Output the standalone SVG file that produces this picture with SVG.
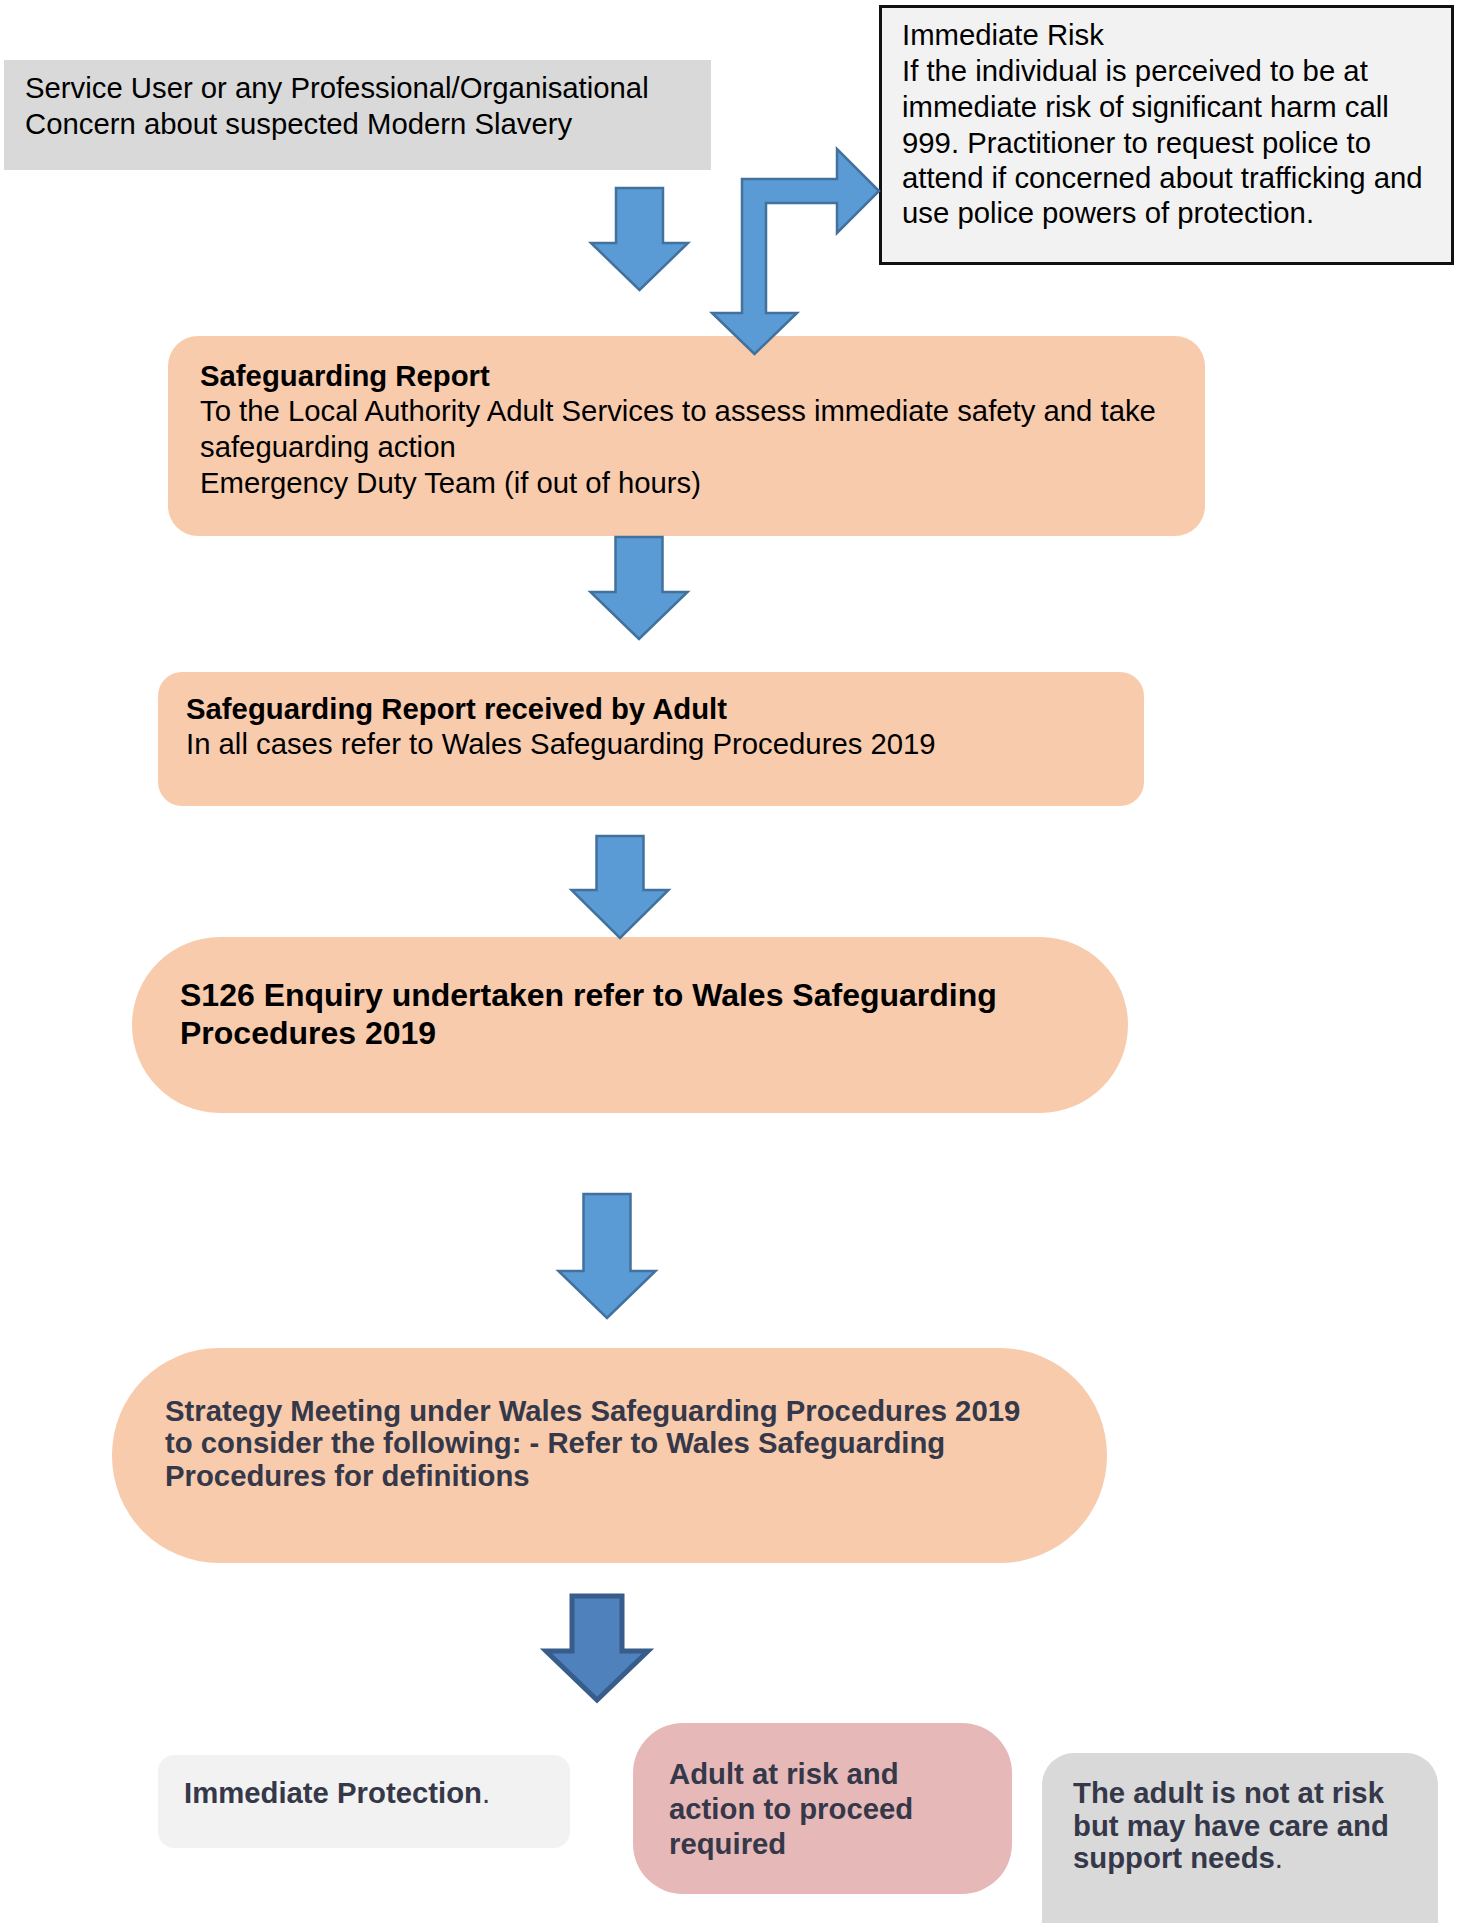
<svg xmlns="http://www.w3.org/2000/svg" width="1459" height="1923" viewBox="0 0 1459 1923">
<style>
text{font-family:"Liberation Sans",Arial,sans-serif;font-size:29.3px;fill:#000}
.b{font-weight:bold}
.dk{fill:#353849;font-weight:bold}
.arr{fill:#5b9bd5;stroke:#41719c;stroke-width:2.5;stroke-linejoin:miter}
.arr2{fill:#4f81bd;stroke:#385d8a;stroke-width:5;stroke-linejoin:miter}
.peach{fill:#f8cbad}
</style>
<rect width="1459" height="1923" fill="#fff"/>
<g id="concern">
<rect x="4" y="60" width="707" height="110" fill="#d9d9d9"/>
<text x="25" y="98">Service User or any Professional/Organisational</text>
<text x="25" y="134">Concern about suspected Modern Slavery</text>
</g>
<g id="immediate-risk">
<rect x="880.5" y="6.5" width="572" height="257" fill="#f2f2f2" stroke="#111" stroke-width="3"/>
<text x="902" y="45">Immediate Risk</text>
<text x="902" y="81">If the individual is perceived to be at</text>
<text x="902" y="117">immediate risk of significant harm call</text>
<text x="902" y="153">999. Practitioner to request police to</text>
<text x="902" y="188">attend if concerned about trafficking and</text>
<text x="902" y="223">use police powers of protection.</text>
</g>
<g id="safeguarding-report">
<rect class="peach" x="168" y="336" width="1037" height="200" rx="30" ry="30"/>
<text class="b" x="200" y="386">Safeguarding Report</text>
<text x="200" y="421">To the Local Authority Adult Services to assess immediate safety and take</text>
<text x="200" y="457">safeguarding action</text>
<text x="200" y="493">Emergency Duty Team (if out of hours)</text>
</g>
<g id="report-received">
<rect class="peach" x="158" y="672" width="986" height="134" rx="24" ry="24"/>
<text class="b" x="186" y="719">Safeguarding Report received by Adult</text>
<text x="186" y="754">In all cases refer to Wales Safeguarding Procedures 2019</text>
</g>
<g id="s126-enquiry">
<rect class="peach" x="132" y="937" width="996" height="176" rx="88" ry="88"/>
<text class="b" x="180" y="1006" style="font-size:32px">S126 Enquiry undertaken refer to Wales Safeguarding</text>
<text class="b" x="180" y="1044" style="font-size:32px">Procedures 2019</text>
</g>
<g id="strategy-meeting">
<rect class="peach" x="112" y="1348" width="995" height="215" rx="107" ry="107"/>
<text class="dk" x="165" y="1421">Strategy Meeting under Wales Safeguarding Procedures 2019</text>
<text class="dk" x="165" y="1453">to consider the following: - Refer to Wales Safeguarding</text>
<text class="dk" x="165" y="1486">Procedures for definitions</text>
</g>
<g id="immediate-protection">
<rect x="158" y="1755" width="412" height="93" rx="16" ry="16" fill="#f2f2f2"/>
<text class="dk" x="184" y="1803">Immediate Protection<tspan style="font-weight:normal">.</tspan></text>
</g>
<g id="adult-at-risk">
<rect x="633" y="1723" width="379" height="171" rx="50" ry="50" fill="#e6b9b8"/>
<text class="dk" x="669" y="1784">Adult at risk and</text>
<text class="dk" x="669" y="1819">action to proceed</text>
<text class="dk" x="669" y="1854">required</text>
</g>
<g id="not-at-risk">
<rect x="1042" y="1753" width="396" height="200" rx="32" ry="32" fill="#d9d9d9"/>
<text class="dk" x="1073" y="1803">The adult is not at risk</text>
<text class="dk" x="1073" y="1836">but may have care and</text>
<text class="dk" x="1073" y="1868">support needs<tspan style="font-weight:normal">.</tspan></text>
</g>
<g id="connectors">
<path class="arr" d="M616,188 H663 V243 H688 L639.5,290 L591,243 H616 Z"/>
<path class="arr" d="M742,179 H837 V149 L879,191 L837,233 V203 H766 V313 H797 L754.5,354 L712,313 H742 Z"/>
<path class="arr" d="M615.5,537 H662.5 V592 H687.5 L639,639 L590.5,592 H615.5 Z"/>
<path class="arr" d="M596.5,836 H643.5 V890 H668.5 L620,938 L571.5,890 H596.5 Z"/>
<path class="arr" d="M583.5,1194 H630.5 V1271 H655.5 L607,1318 L558.5,1271 H583.5 Z"/>
<path class="arr2" d="M572,1596 H622 V1651 H648 L597,1700 L546,1651 H572 Z"/>
</g>
</svg>
